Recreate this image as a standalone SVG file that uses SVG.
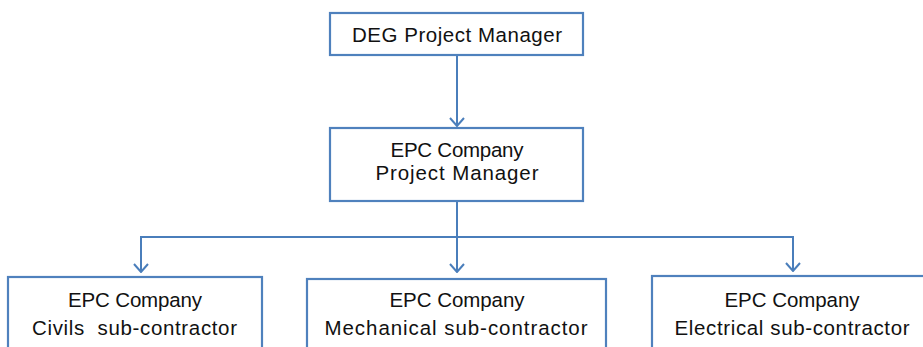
<svg xmlns="http://www.w3.org/2000/svg" width="923" height="347" viewBox="0 0 923 347">
  <style>
    .box { fill: #ffffff; stroke: #4f81bd; stroke-width: 2.2; }
    .link { fill: none; stroke: #4a7ebb; stroke-width: 2; }
    .label { font-family: "Liberation Sans", Arial, sans-serif; font-size: 20.5px; fill: #111111; text-anchor: middle; }
  </style>
  <defs>
    <marker id="arrow" viewBox="0 0 16 16" refX="15" refY="8" markerWidth="16" markerHeight="16" markerUnits="userSpaceOnUse" orient="auto">
      <path d="M7,1 L15,8 L7,15" fill="none" stroke="#4a7ebb" stroke-width="2"/>
    </marker>
  </defs>
  <rect width="923" height="347" fill="#ffffff"/>

  <!-- connectors -->
  <g id="connectors">
    <line class="link" x1="457" y1="55" x2="457" y2="126" marker-end="url(#arrow)"/>
    <line class="link" x1="457" y1="202" x2="457" y2="272" marker-end="url(#arrow)"/>
    <polyline class="link" points="457,237 141,237 141,272" marker-end="url(#arrow)"/>
    <polyline class="link" points="457,237 793,237 793,271" marker-end="url(#arrow)"/>
  </g>

  <g id="deg-pm">
    <rect class="box" x="330" y="13" width="253" height="42"/>
    <text class="label" x="457" y="42" textLength="210">DEG Project Manager</text>
  </g>

  <g id="epc-pm">
    <rect class="box" x="330" y="128" width="253" height="73"/>
    <text class="label" x="457" y="157" textLength="133">EPC Company</text>
    <text class="label" x="457" y="180" textLength="163">Project Manager</text>
  </g>

  <g id="civils">
    <rect class="box" x="8" y="277" width="254" height="80"/>
    <text class="label" x="135" y="307" textLength="134">EPC Company</text>
    <text class="label" x="134.5" y="335" textLength="205" xml:space="preserve">Civils  sub-contractor</text>
  </g>

  <g id="mechanical">
    <rect class="box" x="307" y="279" width="299" height="80"/>
    <text class="label" x="457" y="307" textLength="135">EPC Company</text>
    <text class="label" x="456" y="335" textLength="263">Mechanical sub-contractor</text>
  </g>

  <g id="electrical">
    <rect class="box" x="652" y="276" width="290" height="80"/>
    <text class="label" x="792" y="307" textLength="135">EPC Company</text>
    <text class="label" x="792" y="335" textLength="235">Electrical sub-contractor</text>
  </g>
</svg>
